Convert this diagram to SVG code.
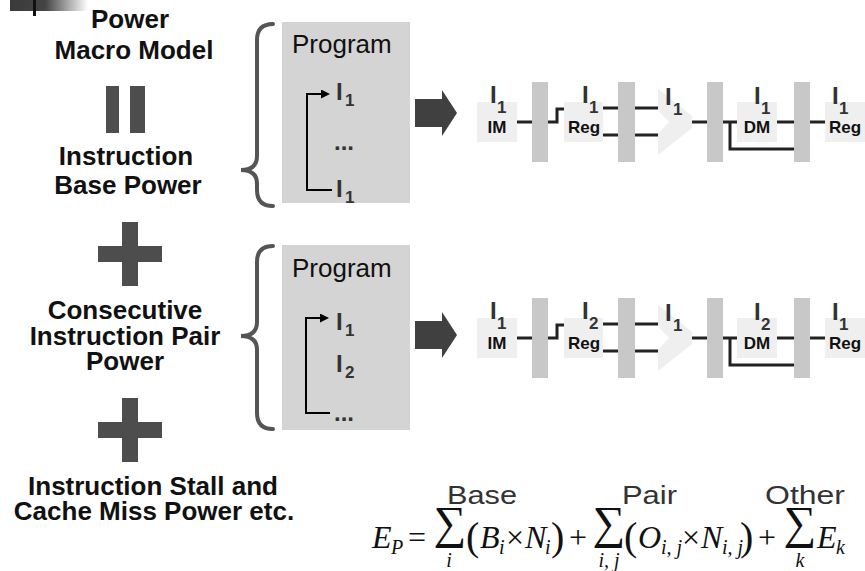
<svg xmlns="http://www.w3.org/2000/svg" width="865" height="571" viewBox="0 0 865 571">
  <defs>
    <linearGradient id="cornerFade" x1="0" y1="0" x2="1" y2="0">
      <stop offset="0" stop-color="#3a3a3a"/>
      <stop offset="0.45" stop-color="#444444"/>
      <stop offset="1" stop-color="#ffffff"/>
    </linearGradient>
    <marker id="loopHead" markerUnits="userSpaceOnUse" markerWidth="9" markerHeight="9" viewBox="0 0 9 9" refX="1" refY="4.5" orient="auto">
      <path d="M0,0 L9,4.5 L0,9 Z" fill="#000"/>
    </marker>
  </defs>
  <style>
    .title { font-family: "Liberation Sans", Arial, sans-serif; font-weight: bold; font-size: 26px; fill: #111; text-anchor: middle; }
    .prog { font-family: "Liberation Sans", Arial, sans-serif; font-size: 26px; fill: #111; }
    .ins { font-family: "Liberation Sans", Arial, sans-serif; font-weight: bold; font-size: 24px; fill: #333; }
    .sub { font-family: "Liberation Sans", Arial, sans-serif; font-weight: bold; font-size: 17px; fill: #333; }
    .unit { font-family: "Liberation Sans", Arial, sans-serif; font-weight: bold; font-size: 17px; fill: #111; text-anchor: middle; }
    .op { fill: #4d4d4d; }
    .brace { fill: none; stroke: #555; stroke-width: 4; stroke-linecap: round; }
    .pbox { fill: #d4d4d4; }
    .loop { fill: none; stroke: #000; stroke-width: 2; }
    .bigarrow { fill: #404040; }
    .stage { fill: #efefef; }
    .latch { fill: #c8c8c8; }
    .wire { fill: none; stroke: #222; stroke-width: 3; }
    .lbl { font-family: "Liberation Sans", Arial, sans-serif; font-size: 25px; fill: #333; }
    .m { font-family: "Liberation Serif", "Times New Roman", serif; font-size: 32px; fill: #111; }
    .par { font-family: "Liberation Serif", "Times New Roman", serif; font-size: 40px; fill: #111; }
    .mi { font-family: "Liberation Serif", "Times New Roman", serif; font-style: italic; font-size: 32px; fill: #111; }
    .ms { font-family: "Liberation Serif", "Times New Roman", serif; font-style: italic; font-size: 20px; fill: #111; }
    .sum { font-family: "Liberation Serif", "Times New Roman", serif; font-size: 46px; fill: #111; text-anchor: middle; }
  </style>

  <!-- corner ornament -->
  <g id="corner">
    <rect x="10" y="0" width="78" height="11" fill="url(#cornerFade)"/>
    <rect x="33" y="0" width="3" height="16" fill="#111"/>
  </g>

  <!-- left column: the macro model as a sum of terms -->
  <g id="title">
    <text class="title" x="130" y="28">Power</text>
    <text class="title" x="134" y="59">Macro Model</text>
  </g>
  <g id="equals" class="op">
    <rect x="106" y="86" width="13" height="47"/>
    <rect x="130" y="86" width="15" height="47"/>
  </g>
  <g id="term-base">
    <text class="title" x="126" y="165">Instruction</text>
    <text class="title" x="128" y="194">Base Power</text>
  </g>
  <g id="plus-1" class="op">
    <rect x="122" y="222" width="16" height="64"/>
    <rect x="98" y="246" width="64" height="16"/>
  </g>
  <g id="term-pair">
    <text class="title" x="125" y="319">Consecutive</text>
    <text class="title" x="125" y="345">Instruction Pair</text>
    <text class="title" x="125" y="370">Power</text>
  </g>
  <g id="plus-2" class="op">
    <rect x="122" y="398" width="16" height="64"/>
    <rect x="98" y="422" width="64" height="16"/>
  </g>
  <g id="term-other">
    <text class="title" x="153" y="495">Instruction Stall and</text>
    <text class="title" x="154" y="520">Cache Miss Power etc.</text>
  </g>

  <!-- braces -->
  <g id="brace-1">
    <path class="brace" d="M273,24 Q257,24 257,40 L257,156 Q257,170 241,170 Q257,170 257,184 L257,190 Q257,206 273,206"/>
  </g>
  <g id="brace-2">
    <path class="brace" d="M273,246 Q257,246 257,262 L257,322 Q257,336 241,336 Q257,336 257,350 L257,413 Q257,429 273,429"/>
  </g>

  <!-- program boxes -->
  <g id="program-1">
    <rect class="pbox" x="282" y="22" width="128" height="181"/>
    <text class="prog" x="292" y="53">Program</text>
    <path class="loop" d="M332,190 H307 V94 H322" marker-end="url(#loopHead)"/>
    <text class="ins" x="336" y="100">I</text><text class="sub" x="345" y="106">1</text>
    <text class="ins" x="334" y="150">...</text>
    <text class="ins" x="336" y="197">I</text><text class="sub" x="345" y="203">1</text>
  </g>
  <g id="program-2">
    <rect class="pbox" x="282" y="245" width="128" height="185"/>
    <text class="prog" x="292" y="277">Program</text>
    <path class="loop" d="M330,413 H306 V318 H321" marker-end="url(#loopHead)"/>
    <text class="ins" x="336" y="330">I</text><text class="sub" x="345" y="336">1</text>
    <text class="ins" x="336" y="372">I</text><text class="sub" x="345" y="378">2</text>
    <text class="ins" x="334" y="421">...</text>
  </g>

  <g id="arrow-1">
    <path class="bigarrow" d="M415,99 H442 V90 L457,113 L442,136 V127 H415 Z"/>
  </g>
  <g id="arrow-2">
    <path class="bigarrow" d="M415,321 H442 V312 L457,335 L442,358 V349 H415 Z"/>
  </g>

  <!-- pipeline 1: same instruction in every stage -->
  <g id="pipe-1">
    <g id="p1-im">
      <rect class="stage" x="477" y="102" width="40" height="40"/>
      <text class="unit" x="497" y="133">IM</text>
      <text class="ins" x="490" y="103">I</text><text class="sub" x="497" y="113">1</text>
    </g>
    <rect id="p1-latch1" class="latch" x="532" y="82" width="16" height="80"/>
    <g id="p1-reg">
      <rect class="stage" x="564" y="102" width="39" height="40"/>
      <text class="unit" x="584" y="133">Reg</text>
      <text class="ins" x="582" y="103">I</text><text class="sub" x="589" y="113">1</text>
    </g>
    <rect id="p1-latch2" class="latch" x="618" y="82" width="17" height="80"/>
    <g id="p1-alu">
      <polygon class="stage" points="658,89 692,116 692,128 658,155 658,134 669,122 658,110"/>
      <text class="ins" x="665" y="105">I</text><text class="sub" x="673" y="115">1</text>
    </g>
    <rect id="p1-latch3" class="latch" x="707" y="82" width="16" height="80"/>
    <g id="p1-dm">
      <rect class="stage" x="737" y="102" width="40" height="40"/>
      <text class="unit" x="757" y="133">DM</text>
      <text class="ins" x="754" y="104">I</text><text class="sub" x="761" y="114">1</text>
    </g>
    <rect id="p1-latch4" class="latch" x="794" y="82" width="16" height="80"/>
    <g id="p1-wb">
      <rect class="stage" x="825" y="102" width="40" height="40"/>
      <text class="unit" x="845" y="133">Reg</text>
      <text class="ins" x="832" y="104">I</text><text class="sub" x="839" y="114">1</text>
    </g>
  </g>

  <!-- pipeline 2: alternating instruction pair -->
  <g id="pipe-2">
    <g id="p2-im">
      <rect class="stage" x="477" y="318" width="40" height="40"/>
      <text class="unit" x="497" y="349">IM</text>
      <text class="ins" x="490" y="319">I</text><text class="sub" x="497" y="329">1</text>
    </g>
    <rect id="p2-latch1" class="latch" x="532" y="298" width="16" height="80"/>
    <g id="p2-reg">
      <rect class="stage" x="564" y="318" width="39" height="40"/>
      <text class="unit" x="584" y="349">Reg</text>
      <text class="ins" x="582" y="319">I</text><text class="sub" x="589" y="329">2</text>
    </g>
    <rect id="p2-latch2" class="latch" x="618" y="298" width="17" height="80"/>
    <g id="p2-alu">
      <polygon class="stage" points="658,305 692,332 692,344 658,371 658,350 669,338 658,326"/>
      <text class="ins" x="665" y="321">I</text><text class="sub" x="673" y="331">1</text>
    </g>
    <rect id="p2-latch3" class="latch" x="707" y="298" width="16" height="80"/>
    <g id="p2-dm">
      <rect class="stage" x="737" y="318" width="40" height="40"/>
      <text class="unit" x="757" y="349">DM</text>
      <text class="ins" x="754" y="320">I</text><text class="sub" x="761" y="330">2</text>
    </g>
    <rect id="p2-latch4" class="latch" x="794" y="298" width="16" height="80"/>
    <g id="p2-wb">
      <rect class="stage" x="825" y="318" width="40" height="40"/>
      <text class="unit" x="845" y="349">Reg</text>
      <text class="ins" x="832" y="320">I</text><text class="sub" x="839" y="330">1</text>
    </g>
  </g>

  <!-- pipeline wiring -->
  <g id="connectors" class="wire">
    <path d="M517,122 H532"/>
    <path d="M548,122 H557 V109 H564"/>
    <path d="M603,108 H618 M603,135 H618"/>
    <path d="M635,108 H658 M635,135 H658"/>
    <path d="M692,122 H707"/>
    <path d="M723,122 H737"/>
    <path d="M730,122 V149 H794"/>
    <path d="M777,122 H794"/>
    <path d="M810,122 H825"/>

    <path d="M517,338 H532"/>
    <path d="M548,338 H557 V325 H564"/>
    <path d="M603,324 H618 M603,351 H618"/>
    <path d="M635,324 H658 M635,351 H658"/>
    <path d="M692,338 H707"/>
    <path d="M723,338 H737"/>
    <path d="M730,338 V365 H794"/>
    <path d="M777,338 H794"/>
    <path d="M810,338 H825"/>
  </g>

  <!-- energy formula -->
  <g id="formula">
    <text class="lbl" x="447" y="504" textLength="70" lengthAdjust="spacingAndGlyphs">Base</text>
    <text class="lbl" x="622" y="504" textLength="55" lengthAdjust="spacingAndGlyphs">Pair</text>
    <text class="lbl" x="765" y="504" textLength="80" lengthAdjust="spacingAndGlyphs">Other</text>

    <text class="mi" x="372" y="548">E</text><text class="ms" x="391" y="554">P</text>
    <text class="m" x="408" y="548">=</text>

    <text class="sum" x="450" y="538">∑</text>
    <text class="ms" x="449" y="567" text-anchor="middle">i</text>
    <text class="par" x="466" y="550">(</text>
    <text class="mi" x="480" y="548">B</text><text class="ms" x="499" y="554">i</text>
    <text class="m" x="506" y="548">×</text>
    <text class="mi" x="525" y="548">N</text><text class="ms" x="545" y="554">i</text>
    <text class="par" x="551" y="550">)</text>
    <text class="m" x="569" y="548">+</text>

    <text class="sum" x="609" y="538">∑</text>
    <text class="ms" x="609" y="567" text-anchor="middle">i, j</text>
    <text class="par" x="624" y="550">(</text>
    <text class="mi" x="638" y="548">O</text><text class="ms" x="661" y="554">i, j</text>
    <text class="m" x="682" y="548">×</text>
    <text class="mi" x="701" y="548">N</text><text class="ms" x="722" y="554">i, j</text>
    <text class="par" x="740" y="550">)</text>
    <text class="m" x="758" y="548">+</text>

    <text class="sum" x="800" y="538">∑</text>
    <text class="ms" x="800" y="567" text-anchor="middle">k</text>
    <text class="mi" x="817" y="548">E</text><text class="ms" x="836" y="554">k</text>
  </g>
</svg>
